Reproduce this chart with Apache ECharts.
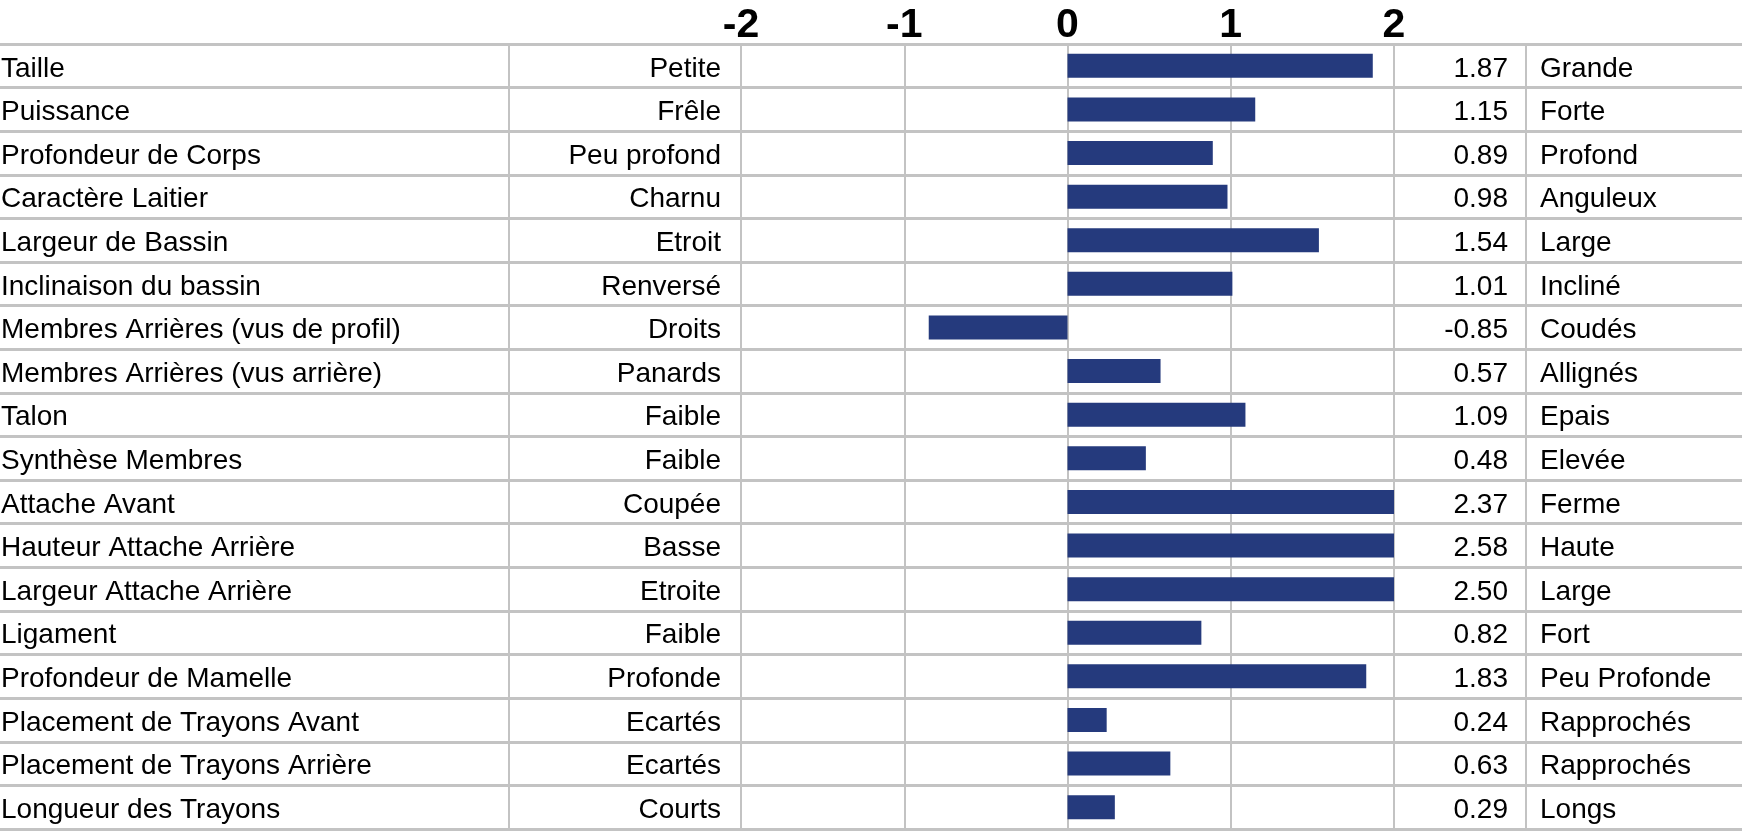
<!DOCTYPE html>
<html>
<head>
<meta charset="utf-8">
<script src="https://cdn.jsdelivr.net/npm/echarts@6/dist/echarts.min.js"></script>
<style>
html,body{margin:0;padding:0;background:#fff;}
#chart{width:1745px;height:837px;}
</style>
</head>
<body>
<div id="chart"></div>
<script>
var traits = ['Taille','Puissance','Profondeur de Corps','Caractère Laitier','Largeur de Bassin','Inclinaison du bassin','Membres Arrières (vus de profil)','Membres Arrières (vus arrière)','Talon','Synthèse Membres','Attache Avant','Hauteur Attache Arrière','Largeur Attache Arrière','Ligament','Profondeur de Mamelle','Placement de Trayons Avant','Placement de Trayons Arrière','Longueur des Trayons'];
var lowLabels = ['Petite','Frêle','Peu profond','Charnu','Etroit','Renversé','Droits','Panards','Faible','Faible','Coupée','Basse','Etroite','Faible','Profonde','Ecartés','Ecartés','Courts'];
var highLabels = ['Grande','Forte','Profond','Anguleux','Large','Incliné','Coudés','Allignés','Epais','Elevée','Ferme','Haute','Large','Fort','Peu Profonde','Rapprochés','Rapprochés','Longs'];
var values = [1.87,1.15,0.89,0.98,1.54,1.01,-0.85,0.57,1.09,0.48,2.37,2.58,2.50,0.82,1.83,0.24,0.63,0.29];
var axisMin = -2, axisMax = 2, axisStep = 1;

var FONT = "'Liberation Sans', Arial, sans-serif";
var TXT = 28;
var GRID_COLOR = '#c3c3c3';
var tableWidth = 1742;
var colSeparators = [509, 1526];

var chart = echarts.init(document.getElementById('chart'), null, {renderer:'canvas'});
var labelBase = {interval:0, fontFamily:FONT, fontSize:TXT, color:'#000', verticalAlign:'top', lineHeight:6};
var option = {
  backgroundColor:'#fff',
  animation:false,
  grid:[
    {left:741, right:351, top:44, bottom:8, outerBoundsMode:'none', containLabel:false},
    {left:0, right:1745-tableWidth, top:44, bottom:8, outerBoundsMode:'none', containLabel:false}
  ],
  xAxis:[
    {type:'value', gridIndex:0, position:'top', min:axisMin, max:axisMax, interval:axisStep,
     axisLine:{show:false}, axisTick:{show:false},
     axisLabel:{fontFamily:FONT, fontSize:41, fontWeight:'bold', color:'#000', margin:-2, showMinLabel:true, showMaxLabel:true},
     splitLine:{show:true, lineStyle:{color:GRID_COLOR, width:2}}},
    {type:'value', gridIndex:1, min:0, max:tableWidth, show:false}
  ],
  yAxis:[
    {type:'category', gridIndex:0, data:traits, inverse:true, position:'left',
     axisLine:{show:false}, axisTick:{show:false}, splitLine:{show:false},
     axisLabel:Object.assign({}, labelBase, {margin:20, align:'right', formatter:function(v,i){return lowLabels[i];}})},
    {type:'category', gridIndex:0, data:traits, inverse:true, position:'left',
     axisLine:{show:false}, axisTick:{show:false}, splitLine:{show:false},
     axisLabel:Object.assign({}, labelBase, {margin:740, align:'left', formatter:function(v,i){return traits[i];}})},
    {type:'category', gridIndex:0, data:traits, inverse:true, position:'right',
     axisLine:{show:false}, axisTick:{show:false}, splitLine:{show:false},
     axisLabel:Object.assign({}, labelBase, {margin:114, align:'right', formatter:function(v,i){return values[i].toFixed(2);}})},
    {type:'category', gridIndex:0, data:traits, inverse:true, position:'right',
     axisLine:{show:false}, axisTick:{show:false}, splitLine:{show:false},
     axisLabel:Object.assign({}, labelBase, {margin:146, align:'left', formatter:function(v,i){return highLabels[i];}})},
    {type:'category', gridIndex:1, data:traits, inverse:true,
     axisLine:{show:false}, axisTick:{show:false}, axisLabel:{show:false},
     splitLine:{show:true, interval:0, lineStyle:{color:GRID_COLOR, width:3}}}
  ],
  series:[
    {type:'line', xAxisIndex:1, yAxisIndex:4, data:[], silent:true,
     markLine:{silent:true, symbol:'none', label:{show:false}, animation:false,
       lineStyle:{color:GRID_COLOR, width:2, type:'solid'},
       data:colSeparators.map(function(x){return {xAxis:x};})}},
    {type:'bar', xAxisIndex:0, yAxisIndex:0, data:values, barWidth:24, clip:true,
     itemStyle:{color:'#253a7d'}}
  ]
};
chart.setOption(option);
</script>
</body>
</html>
